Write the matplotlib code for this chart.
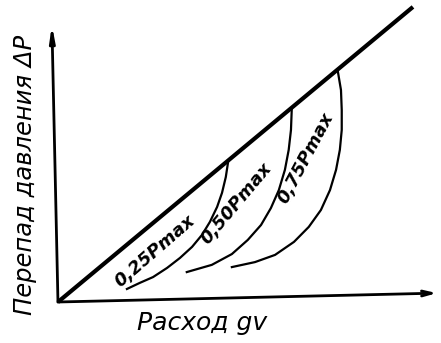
import matplotlib
matplotlib.use('Agg')
from matplotlib import pyplot as plt

# условные единицы: расход 0..100, перепад 0..100
line_q = [0.0, 93.7]
line_dp = [0.0, 106.5]

labels = ['0,25Pmax', '0,50Pmax', '0,75Pmax']
curve_q = [
    [44.9, 44.3, 43.3, 42.0, 40.1, 38.0, 35.4, 32.2, 28.8, 25.1, 21.6, 18.2],
    [61.7, 61.5, 60.9, 59.9, 58.3, 56.2, 53.6, 50.1, 45.9, 40.6, 34.0],
    [73.9, 74.7, 74.9, 74.9, 74.4, 73.4, 71.8, 69.4, 66.2, 62.3, 57.3, 52.0, 45.9],
]
curve_dp = [
    [50.5, 45.1, 39.4, 34.3, 28.9, 24.2, 19.9, 15.9, 12.3, 9.0, 6.9, 4.7],
    [69.3, 62.1, 54.9, 47.7, 40.4, 33.9, 27.8, 22.4, 17.3, 13.4, 10.8],
    [83.0, 76.5, 69.3, 62.1, 54.9, 47.7, 40.4, 33.2, 27.1, 21.7, 17.0, 14.4, 12.6],
]

xlabel = 'Расход gv'
ylabel = 'Перепад давления ΔP'

fig = plt.figure(figsize=(4.41, 3.43), dpi=100)
ax = fig.add_axes([0, 0, 1, 1])
ax.set_xlim(-15.3, 101.1)
ax.set_ylim(-14.8, 109.0)
ax.axis('off')

# оси со стрелками
ax.annotate('', xy=(-1.6, 100), xytext=(0, 0),
            arrowprops=dict(arrowstyle='-|>,head_length=0.9,head_width=0.15',
                            color='black', lw=2.0, shrinkA=0, shrinkB=0))
ax.annotate('', xy=(100, 3.2), xytext=(0, 0),
            arrowprops=dict(arrowstyle='->,head_length=0.7,head_width=0.18',
                            color='black', lw=2.0, shrinkA=0, shrinkB=0))

# характеристика
ax.plot(line_q, line_dp, color='black', lw=3.0, solid_capstyle='butt')

# кривые
for q, dp in zip(curve_q, curve_dp):
    ax.plot(q, dp, color='black', lw=1.6, solid_joinstyle='round')

# подписи кривых
label_pos = [(25.6, 18.4), (47.0, 35.7), (65.4, 52.0)]
label_rot = [41, 50, 62]
for text, (x, y), r in zip(labels, label_pos, label_rot):
    ax.text(x, y, text, rotation=r, rotation_mode='anchor', ha='center', va='center',
            fontsize=13, style='italic', weight='bold', color='black')

ax.text(38.0, -7.6, xlabel, ha='center', va='center', fontsize=18, style='italic')
ax.text(-8.6, 46.0, ylabel, rotation=90, ha='center', va='center', fontsize=17.5,
        style='italic')

fig.savefig('out.png', dpi=100)
